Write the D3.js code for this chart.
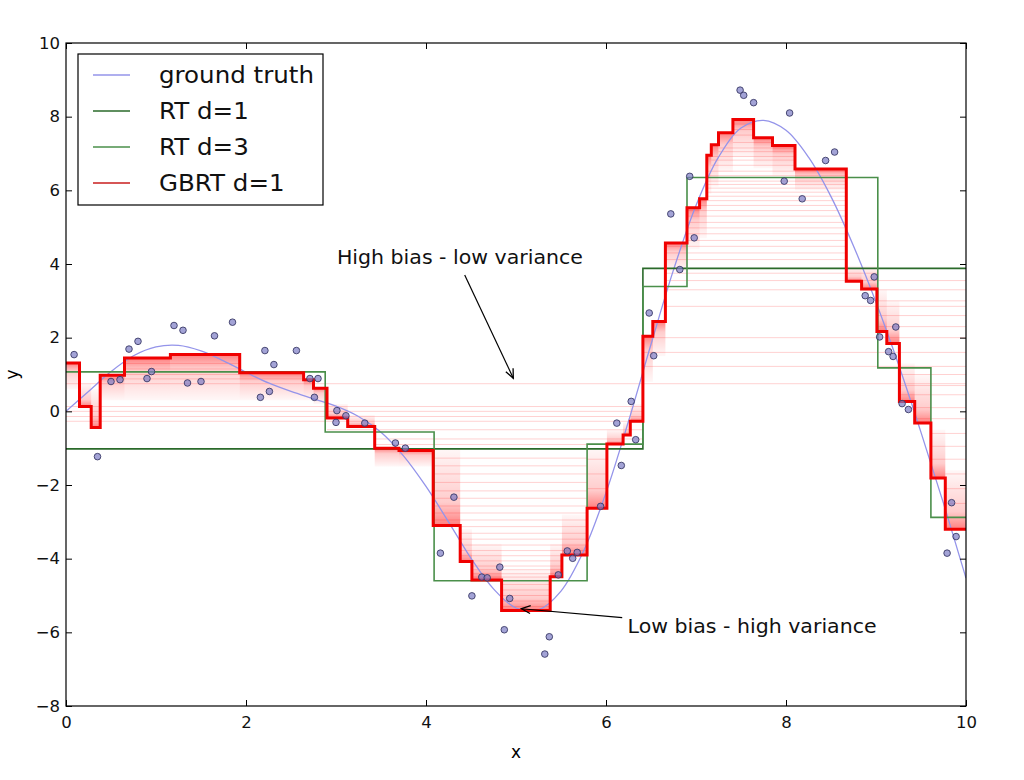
<!DOCTYPE html>
<html>
<head>
<meta charset="utf-8">
<script src="https://cdn.jsdelivr.net/npm/d3@7"></script>
<style>
    body { margin: 0; background: #fff; }
    text { font-family: "DejaVu Sans", sans-serif; }
</style>
</head>
<body>
<svg id="chart" width="1024" height="780"></svg>
<script>
// values
var truthX = [0, 0.25, 0.5, 0.75, 1, 1.25, 1.5, 1.75, 2, 2.25, 2.5, 2.75, 3, 3.25, 3.5, 3.75, 4, 4.25, 4.5, 4.75,
    5, 5.25, 5.5, 5.75, 6, 6.25, 6.5, 6.75, 7, 7.25, 7.5, 7.75, 8, 8.25, 8.5, 8.75, 9, 9.25, 9.5, 9.75, 10];
var truthY = [0, 0.54, 1.08, 1.51, 1.75, 1.79, 1.64, 1.37, 1.06, 0.77, 0.54, 0.34, 0.14, -0.14, -0.57, -1.21,
    -2.04, -3.0, -3.99, -4.82, -5.34, -5.39, -4.88, -3.8, -2.21, -0.27, 1.82, 3.84, 5.59, 6.9, 7.69, 7.9,
    7.63, 6.9, 5.83, 4.49, 2.96, 1.27, -0.57, -2.5, -4.53];

var sampleX = [0.09, 0.35, 0.5, 0.6, 0.7, 0.8, 0.9, 0.95, 1.2, 1.3, 1.35, 1.5, 1.65, 1.85, 2.16, 2.21, 2.26, 2.31,
    2.56, 2.71, 2.8, 2.76, 3.01, 3.11, 3.0, 3.32, 3.66, 3.77, 4.16, 4.31, 4.51, 4.62, 4.68, 4.82, 4.93, 4.87,
    5.32, 5.37, 5.47, 5.57, 5.63, 5.68, 5.94, 6.12, 6.17, 6.28, 6.33, 6.48, 6.53, 6.72, 6.82, 6.93, 6.98,
    7.49, 7.53, 7.64, 7.98, 8.04, 8.18, 8.44, 8.54, 8.88, 8.94, 8.98, 9.04, 9.14, 9.19, 9.22, 9.29, 9.36,
    9.79, 9.84, 9.89];
var sampleY = [1.54, -1.23, 0.81, 0.86, 1.69, 1.9, 0.89, 1.08, 2.33, 2.2, 0.77, 0.81, 2.05, 2.42, 0.38, 1.65, 0.54, 1.27,
    1.65, 0.89, 0.89, 0.38, 0.02, -0.12, -0.3, -0.32, -0.86, -1.0, -3.85, -2.33, -5.01, -4.5, -4.52, -4.23, -5.08, -5.93,
    -6.59, -6.12, -4.44, -3.79, -3.99, -3.83, -2.58, -0.32, -1.47, 0.27, -0.77, 2.67, 1.51, 5.36, 3.85, 6.38, 4.71,
    8.72, 8.58, 8.38, 6.25, 8.1, 5.77, 6.81, 7.04, 3.14, 3.01, 3.65, 2.02, 1.62, 1.49, 2.29, 0.21, 0.05,
    -3.85, -2.48, -3.4];

var rt1Edges = [0, 6.41, 10];
var rt1Values = [-1.02, 3.88];

var rt3Edges = [0, 2.88, 4.09, 5.79, 6.41, 6.9, 9.02, 9.61, 10];
var rt3Values = [1.07, -0.56, -4.6, -0.89, 3.39, 6.35, 1.18, -2.88];

var gbrtEdges = [0, 0.15, 0.28, 0.38, 0.65, 1.16, 1.93, 2.64, 2.75, 2.9, 3.13, 3.43, 3.7, 4.08, 4.38, 4.51, 4.84,
    5.38, 5.51, 5.79, 6.01, 6.19, 6.27, 6.41, 6.52, 6.66, 6.9, 7.04, 7.12, 7.17, 7.25, 7.41, 7.64, 7.85, 8.1,
    8.67, 8.84, 9.01, 9.12, 9.26, 9.43, 9.61, 9.77, 10];
var gbrtValues = [1.31, 0.13, -0.44, 0.98, 1.45, 1.54, 1.05, 0.86, 0.63, -0.18, -0.41, -1.0, -1.06, -3.1, -4.08,
    -4.58, -5.41, -4.49, -3.9, -2.63, -0.89, -0.64, -0.27, 2.04, 2.44, 4.57, 5.53, 5.77, 6.95, 7.24, 7.56, 7.92,
    7.43, 7.22, 6.58, 3.53, 3.32, 2.17, 1.84, 0.27, -0.32, -1.81, -3.2];
// how far the dense band of earlier stages reaches from each final step
var gbrtShadeTo = [0.6, 0.75, 0.6, 0.3, 0.3, 0.3, 0.3, 0.3, 0.2, 0.2, -0.1, -1.5, -1.5, -1.0, -3.2, -3.6, -4.3,
    -3.6, -2.8, -1.0, -0.5, -0.3, 0.2, 0.8, 1.5, 3.8, 4.4, 4.7, 5.9, 6.1, 6.5, 6.9, 6.6, 6.4, 6.0, 3.95, 3.95, 3.3,
    3.0, 1.3, 1.0, -0.5, -1.6];

// faint earlier boosting stages: [from x, to x, y]
var stageLines = [
    [0, 10, 0.75],
    [0, 6.41, 0.13], [0, 6.41, 0.0], [0, 6.41, -0.14], [0, 6.41, -0.27],
    [2.9, 6.41, -0.5], [3.43, 6.41, -0.75], [3.43, 6.41, -0.9],
    [0.65, 1.93, 1.0], [0.65, 1.93, 1.15], [0.65, 1.93, 1.3], [0.38, 2.64, 0.88],
    [4.08, 5.79, -1.27], [4.08, 5.79, -1.48], [4.08, 5.79, -1.7], [4.08, 5.79, -1.93], [4.08, 5.79, -2.16],
    [4.08, 5.79, -2.36], [4.08, 5.79, -2.57], [4.08, 5.79, -2.76], [4.08, 5.79, -2.95],
    [4.38, 5.79, -3.13], [4.38, 5.79, -3.31], [4.38, 5.79, -3.47], [4.38, 5.79, -3.63], [4.38, 5.79, -3.78],
    [4.38, 5.51, -3.92], [4.38, 5.51, -4.06], [4.51, 5.51, -4.2], [4.51, 5.51, -4.3], [4.51, 5.51, -4.41],
    [4.51, 5.38, -4.5],
    [4.84, 5.38, -4.7], [4.84, 5.38, -4.85], [4.84, 5.38, -5.0], [4.84, 5.38, -5.15], [4.84, 5.38, -5.3],
    [5.79, 6.01, -1.3], [5.79, 6.01, -1.7], [5.79, 6.01, -2.1],
    [6.41, 10, 1.22], [6.41, 10, 1.6], [6.41, 10, 2.0], [6.66, 10, 2.85], [6.66, 10, 3.3], [6.66, 10, 3.55],
    [6.66, 9.01, 3.75],
    [6.66, 8.67, 4.12], [6.66, 8.67, 4.3], [6.66, 8.67, 4.48], [6.9, 8.67, 4.64], [6.9, 8.67, 4.82],
    [6.9, 8.67, 4.98], [6.9, 8.67, 5.13], [6.9, 8.67, 5.3], [6.9, 8.67, 5.45], [7.04, 8.67, 5.59],
    [7.04, 8.67, 5.72], [7.12, 8.67, 5.84], [7.12, 8.67, 5.95], [7.12, 8.67, 6.06], [7.12, 8.67, 6.16],
    [7.12, 8.67, 6.25], [7.12, 8.67, 6.4], [7.12, 8.67, 6.52],
    [7.17, 8.1, 6.68], [7.17, 8.1, 6.82], [7.17, 8.1, 6.92], [7.25, 8.1, 7.05], [7.25, 8.1, 7.15],
    [7.41, 7.85, 7.3], [7.41, 7.64, 7.5], [7.41, 7.64, 7.65], [7.41, 7.64, 7.8],
    [9.01, 10, 3.0], [9.01, 10, 2.6], [9.01, 10, 2.3], [9.26, 10, 1.0], [9.26, 10, 0.7], [9.26, 10, 0.45],
    [9.43, 10, 0.1], [9.43, 10, -0.2], [9.61, 10, -0.6], [9.61, 10, -0.95], [9.61, 10, -1.3],
    [9.77, 10, -1.7], [9.77, 10, -2.1], [9.77, 10, -2.5]
];

var xTicks = [0, 2, 4, 6, 8, 10];
var yTicks = [-8, -6, -4, -2, 0, 2, 4, 6, 8, 10];
var legendLabels = ['ground truth', 'RT d=1', 'RT d=3', 'GBRT d=1'];
var legendColors = ['#9494ea', '#2a6a2a', '#4a8f4a', '#c81e1e'];

var annotations = [
    {text: 'High bias - low variance', textAt: [3.01, 4.01], from: [4.43, 3.7], to: [4.97, 0.9]},
    {text: 'Low bias - high variance', textAt: [6.24, -6.02], from: [6.18, -5.6], to: [5.06, -5.36]}
];

var box = {left: 66, right: 966, top: 43, bottom: 706};
var svg = d3.select('#chart');

var x = d3.scaleLinear().domain([0, 10]).range([box.left, box.right]);
var y = d3.scaleLinear().domain([-8, 10]).range([box.bottom, box.top]);

// the reference text is drawn a little wider than the font's own advance
function widen(k) {
    return function (sel) {
        sel.each(function () {
            var w = this.getComputedTextLength();
            d3.select(this).attr('textLength', w * k).attr('lengthAdjust', 'spacingAndGlyphs');
        });
    };
}

var defs = svg.append('defs');
defs.append('clipPath').attr('id', 'plotclip')
    .append('rect')
    .attr('x', box.left).attr('y', box.top)
    .attr('width', box.right - box.left).attr('height', box.bottom - box.top);

function addFade(id, y1, y2) {
    var g = defs.append('linearGradient').attr('id', id)
        .attr('x1', 0).attr('x2', 0).attr('y1', y1).attr('y2', y2);
    g.append('stop').attr('offset', '0%').attr('stop-color', '#ff0000').attr('stop-opacity', 0.5);
    g.append('stop').attr('offset', '30%').attr('stop-color', '#ff0000').attr('stop-opacity', 0.2);
    g.append('stop').attr('offset', '100%').attr('stop-color', '#ff0000').attr('stop-opacity', 0.03);
}
addFade('fadeUp', 1, 0);
addFade('fadeDown', 0, 1);

defs.append('marker').attr('id', 'arrow')
    .attr('markerUnits', 'userSpaceOnUse')
    .attr('markerWidth', 12).attr('markerHeight', 12)
    .attr('refX', 10).attr('refY', 5)
    .attr('orient', 'auto')
    .append('path')
    .attr('d', 'M1,1 L10,5 L1,9')
    .attr('fill', 'none').attr('stroke', '#000').attr('stroke-width', 1.3);

function stepPoints(edges, values) {
    var pts = values.map(function (v, i) { return [edges[i], v]; });
    pts.push([edges[edges.length - 1], values[values.length - 1]]);
    return pts;
}

var stepLine = d3.line()
    .x(function (d) { return x(d[0]); })
    .y(function (d) { return y(d[1]); })
    .curve(d3.curveStepAfter);

var plot = svg.append('g').attr('clip-path', 'url(#plotclip)');

// earlier stages
plot.append('g').selectAll('line')
    .data(stageLines)
    .enter().append('line')
    .attr('x1', function (d) { return x(d[0]); })
    .attr('x2', function (d) { return x(d[1]); })
    .attr('y1', function (d) { return y(d[2]); })
    .attr('y2', function (d) { return y(d[2]); })
    .attr('stroke', '#ff0000')
    .attr('stroke-opacity', 0.18)
    .attr('stroke-width', 1);

plot.append('g').selectAll('rect')
    .data(gbrtValues)
    .enter().append('rect')
    .attr('x', function (d, i) { return x(gbrtEdges[i]); })
    .attr('width', function (d, i) { return x(gbrtEdges[i + 1]) - x(gbrtEdges[i]); })
    .attr('y', function (d, i) { return y(Math.max(d, gbrtShadeTo[i])); })
    .attr('height', function (d, i) { return Math.abs(y(d) - y(gbrtShadeTo[i])); })
    .attr('fill', function (d, i) { return gbrtShadeTo[i] > d ? 'url(#fadeUp)' : 'url(#fadeDown)'; });

// ground truth
var truthLine = d3.line()
    .x(function (d, i) { return x(truthX[i]); })
    .y(function (d) { return y(d); })
    .curve(d3.curveCatmullRom);
plot.append('path')
    .attr('d', truthLine(truthY))
    .attr('fill', 'none')
    .attr('stroke', legendColors[0])
    .attr('stroke-width', 1.3);

plot.append('path')
    .attr('d', stepLine(stepPoints(rt1Edges, rt1Values)))
    .attr('fill', 'none').attr('stroke', legendColors[1]).attr('stroke-width', 1.6);
plot.append('path')
    .attr('d', stepLine(stepPoints(rt3Edges, rt3Values)))
    .attr('fill', 'none').attr('stroke', legendColors[2]).attr('stroke-width', 1.6);

plot.append('path')
    .attr('d', stepLine(stepPoints(gbrtEdges, gbrtValues)))
    .attr('fill', 'none').attr('stroke', '#f00000').attr('stroke-width', 3);

plot.append('g').selectAll('circle')
    .data(sampleX)
    .enter().append('circle')
    .attr('cx', function (d) { return x(d); })
    .attr('cy', function (d, i) { return y(sampleY[i]); })
    .attr('r', 3.3)
    .attr('fill', '#7c7cc4')
    .attr('fill-opacity', 0.7)
    .attr('stroke', '#3a3a66')
    .attr('stroke-width', 0.9);

// axes with inward ticks on all four sides
function styleAxis(g) {
    g.select('.domain').remove();
    g.selectAll('.tick line').attr('stroke', '#000');
    g.selectAll('.tick text').attr('font-size', 16.5).attr('fill', '#111')
        .attr('font-family', '"DejaVu Sans", sans-serif');
}
svg.append('g')
    .attr('transform', 'translate(0,' + box.bottom + ')')
    .call(d3.axisBottom(x).tickValues(xTicks).tickSizeInner(-6).tickSizeOuter(0).tickPadding(10))
    .call(styleAxis);
svg.append('g')
    .attr('transform', 'translate(0,' + box.top + ')')
    .call(d3.axisTop(x).tickValues(xTicks).tickSizeInner(-6).tickSizeOuter(0).tickFormat(''))
    .call(styleAxis);
svg.append('g')
    .attr('transform', 'translate(' + box.left + ',0)')
    .call(d3.axisLeft(y).tickValues(yTicks).tickSizeInner(-6).tickSizeOuter(0).tickPadding(6))
    .call(styleAxis);
svg.append('g')
    .attr('transform', 'translate(' + box.right + ',0)')
    .call(d3.axisRight(y).tickValues(yTicks).tickSizeInner(-6).tickSizeOuter(0).tickFormat(''))
    .call(styleAxis);

svg.append('rect')
    .attr('x', box.left).attr('y', box.top)
    .attr('width', box.right - box.left).attr('height', box.bottom - box.top)
    .attr('fill', 'none').attr('stroke', '#000').attr('stroke-width', 1.2);

svg.append('text')
    .attr('x', (box.left + box.right) / 2).attr('y', 758)
    .attr('text-anchor', 'middle').attr('font-size', 17)
    .text('x');
svg.append('text')
    .attr('transform', 'translate(18,' + ((box.top + box.bottom) / 2) + ') rotate(-90)')
    .attr('text-anchor', 'middle').attr('font-size', 17)
    .text('y');

// annotations
var notes = svg.append('g');
annotations.forEach(function (a) {
    notes.append('line')
        .attr('x1', x(a.from[0])).attr('y1', y(a.from[1]))
        .attr('x2', x(a.to[0])).attr('y2', y(a.to[1]))
        .attr('stroke', '#000').attr('stroke-width', 1.2)
        .attr('marker-end', 'url(#arrow)');
    notes.append('text')
        .attr('x', x(a.textAt[0])).attr('y', y(a.textAt[1]))
        .attr('font-size', 19).attr('fill', '#111')
        .text(a.text)
        .call(widen(1.08));
});

// legend
var legend = svg.append('g');
legend.append('rect')
    .attr('x', 78).attr('y', 54).attr('width', 245).attr('height', 151)
    .attr('fill', '#fff').attr('stroke', '#000').attr('stroke-width', 1.2);
var rows = legend.selectAll('g.row')
    .data(legendLabels)
    .enter().append('g')
    .attr('class', 'row')
    .attr('transform', function (d, i) { return 'translate(0,' + (75 + i * 36) + ')'; });
rows.append('line')
    .attr('x1', 93).attr('x2', 130).attr('y1', 0).attr('y2', 0)
    .attr('stroke', function (d, i) { return legendColors[i]; })
    .attr('stroke-width', 1.5);
rows.append('text')
    .attr('x', 159).attr('y', 8)
    .attr('font-size', 22.5).attr('fill', '#111')
    .text(function (d) { return d; })
    .call(widen(1.09));
</script>
</body>
</html>
